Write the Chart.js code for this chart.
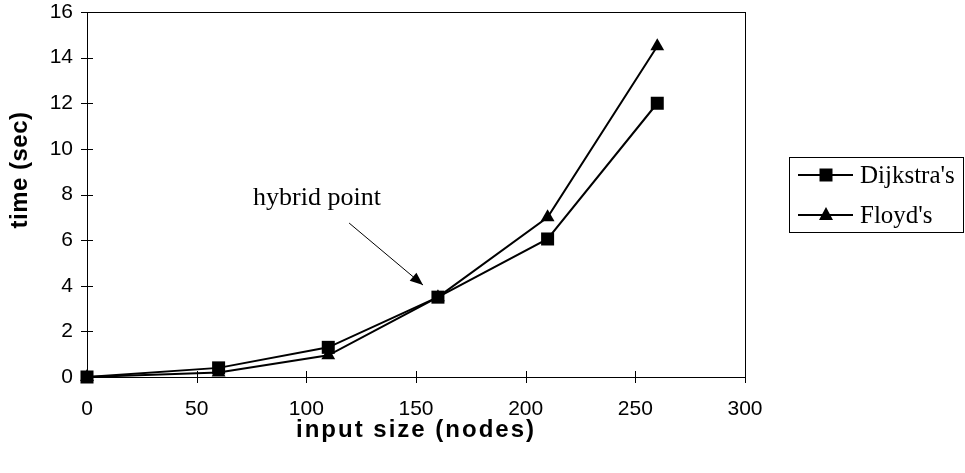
<!DOCTYPE html>
<html>
<head>
<meta charset="UTF-8">
<title>time vs input size</title>
<script src="https://cdn.jsdelivr.net/npm/chart.js"></script>
<style>
  html, body { margin: 0; padding: 0; background: #fff; }
  #wrap { width: 965px; height: 473px; }
</style>
</head>
<body>
<div id="wrap"><canvas id="grafico"></canvas></div>
<script>
// dados
const nodes = [0, 60, 110, 160, 210, 260];
const dijkstra = [0, 0.4, 1.3, 3.5, 6.05, 12];
const floyd = [0, 0.2, 0.95, 3.5, 7, 14.5];
const seriesNames = ["Dijkstra's", "Floyd's"];
const seriesMarkers = ['rect', 'triangle'];
const xTicks = [0, 50, 100, 150, 200, 250, 300];
const yTicks = [0, 2, 4, 6, 8, 10, 12, 14, 16];

function pontos(valores) {
    return nodes.map((n, i) => ({ x: n, y: valores[i] }));
}

// caixa do plot + marcas de tick cruzando o eixo + titulos + legenda + anotacao
const extras = {
    id: 'extras',
    beforeDatasetsDraw(chart) {
        const ctx = chart.ctx;
        const a = chart.chartArea;
        const sx = chart.scales.x, sy = chart.scales.y;
        ctx.save();
        ctx.strokeStyle = '#000';
        ctx.lineWidth = 1;
        ctx.strokeRect(Math.round(a.left) + 0.5, Math.round(a.top) + 0.5, Math.round(a.right - a.left), Math.round(a.bottom - a.top));

        // ticks
        ctx.beginPath();
        xTicks.forEach(v => {
            const px = Math.round(sx.getPixelForValue(v)) + 0.5;
            ctx.moveTo(px, a.bottom - 6);
            ctx.lineTo(px, a.bottom + 6);
        });
        yTicks.forEach(v => {
            const py = Math.round(sy.getPixelForValue(v)) + 0.5;
            ctx.moveTo(a.left - 6, py);
            ctx.lineTo(a.left + 6, py);
        });
        ctx.stroke();
        ctx.restore();
    },
    afterDraw(chart) {
        const ctx = chart.ctx;
        const a = chart.chartArea;
        const sx = chart.scales.x, sy = chart.scales.y;
        ctx.save();

        // titulos dos eixos
        ctx.fillStyle = '#000';
        ctx.strokeStyle = '#000';
        ctx.textAlign = 'center';
        ctx.textBaseline = 'middle';
        ctx.font = 'bold 24px "Liberation Sans", Arial, sans-serif';
        ctx.letterSpacing = '0.5px';
        ctx.save();
        ctx.translate(20, 170);
        ctx.rotate(-Math.PI / 2);
        ctx.fillText('time (sec)', 0, 0);
        ctx.restore();
        ctx.font = 'bold 24px "Liberation Sans", Arial, sans-serif';
        ctx.letterSpacing = '2px';
        ctx.fillText('input size (nodes)', (a.left + a.right) / 2, 430);
        ctx.letterSpacing = '0px';

        // anotacao "hybrid point"
        ctx.font = '26px "Liberation Serif", "Times New Roman", serif';
        ctx.textAlign = 'left';
        ctx.textBaseline = 'alphabetic';
        ctx.fillText('hybrid point', sx.getPixelForValue(75.7), sy.getPixelForValue(7.54));
        const x1 = sx.getPixelForValue(119.5), y1 = sy.getPixelForValue(6.75);
        const x2 = sx.getPixelForValue(153.2), y2 = sy.getPixelForValue(4.03);
        ctx.lineWidth = 1;
        ctx.beginPath();
        ctx.moveTo(x1, y1);
        ctx.lineTo(x2, y2);
        ctx.stroke();
        const ang = Math.atan2(y2 - y1, x2 - x1);
        ctx.beginPath();
        ctx.moveTo(x2, y2);
        ctx.lineTo(x2 - 14 * Math.cos(ang - 0.38), y2 - 14 * Math.sin(ang - 0.38));
        ctx.lineTo(x2 - 14 * Math.cos(ang + 0.38), y2 - 14 * Math.sin(ang + 0.38));
        ctx.closePath();
        ctx.fill();

        // legenda
        const lx = 789, ly = 157, lw = 175, lh = 76;
        ctx.fillStyle = '#fff';
        ctx.fillRect(lx, ly, lw, lh);
        ctx.strokeRect(lx + 0.5, ly + 0.5, lw - 1, lh - 1);
        ctx.fillStyle = '#000';
        ctx.font = '25px "Liberation Serif", "Times New Roman", serif';
        ctx.textBaseline = 'middle';
        seriesNames.forEach((nome, i) => {
            const cy = 175 + i * 40;
            ctx.lineWidth = 2;
            ctx.beginPath();
            ctx.moveTo(798, cy);
            ctx.lineTo(853, cy);
            ctx.stroke();
            const cx = 826;
            ctx.beginPath();
            if (seriesMarkers[i] === 'rect') {
                ctx.rect(cx - 6.5, cy - 6.5, 13, 13);
            } else {
                ctx.moveTo(cx, cy - 8);
                ctx.lineTo(cx + 7, cy + 5);
                ctx.lineTo(cx - 7, cy + 5);
                ctx.closePath();
            }
            ctx.fill();
            ctx.fillText(nome, 860, cy + 1);
        });
        ctx.restore();
    }
};

const config = {
    type: 'line',
    data: {
        datasets: [
            {
                label: seriesNames[0],
                data: pontos(dijkstra),
                borderColor: '#000',
                backgroundColor: '#000',
                borderWidth: 2,
                pointStyle: seriesMarkers[0],
                pointRadius: 9.2,
                pointBorderWidth: 0,
                tension: 0,
                clip: false
            },
            {
                label: seriesNames[1],
                data: pontos(floyd),
                borderColor: '#000',
                backgroundColor: '#000',
                borderWidth: 2,
                pointStyle: seriesMarkers[1],
                pointRadius: 8,
                pointBorderWidth: 0,
                tension: 0,
                clip: false
            }
        ]
    },
    options: {
        responsive: true,
        maintainAspectRatio: false,
        animation: false,
        layout: { padding: { left: 0, right: 220, top: 12, bottom: 0 } },
        plugins: {
            legend: { display: false },
            tooltip: { enabled: false }
        },
        scales: {
            x: {
                type: 'linear',
                min: 0,
                max: 300,
                afterBuildTicks: (s) => { s.ticks = xTicks.map(v => ({ value: v })); },
                afterFit: (s) => { s.height = 473 - 377; s.paddingLeft = 0; s.paddingRight = 0; },
                grid: { display: false, drawTicks: false },
                border: { color: '#000', width: 1 },
                ticks: {
                    color: '#000',
                    padding: 20,
                    font: { family: '"Liberation Sans", Arial, sans-serif', size: 21 }
                }
            },
            y: {
                min: 0,
                max: 16,
                afterBuildTicks: (s) => { s.ticks = yTicks.map(v => ({ value: v })); },
                afterFit: (s) => { s.width = 87; s.paddingTop = 0; s.paddingBottom = 0; },
                grid: { display: false, drawTicks: false },
                border: { color: '#000', width: 1 },
                ticks: {
                    color: '#000',
                    padding: 14,
                    font: { family: '"Liberation Sans", Arial, sans-serif', size: 21 }
                }
            }
        }
    },
    plugins: [extras]
};

new Chart(document.getElementById('grafico'), config);
</script>
</body>
</html>
